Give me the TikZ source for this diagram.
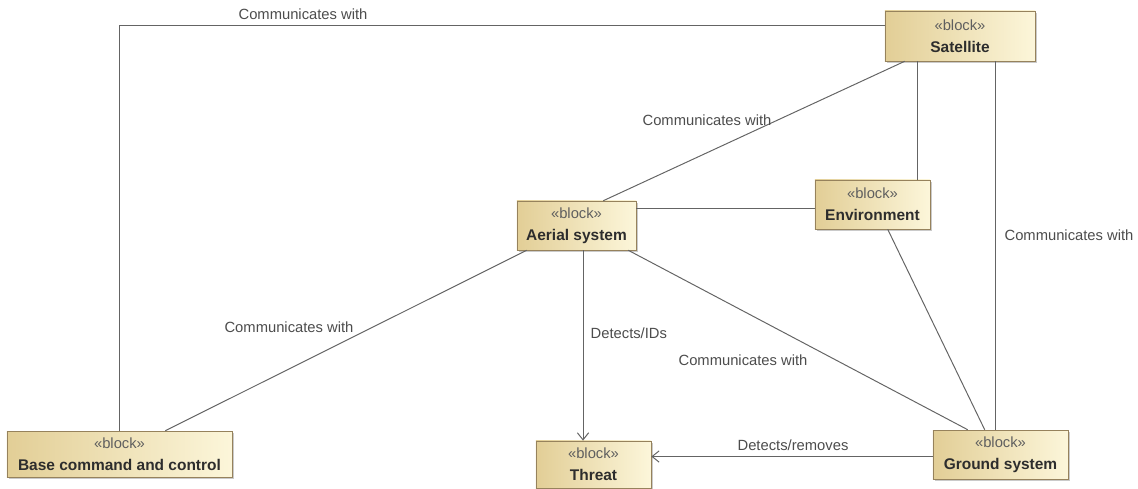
\documentclass[tikz,border=0pt]{standalone}
\usepackage{fontspec}
\setmainfont{Liberation Sans}
\usepackage{xcolor}
\usetikzlibrary{calc,shadows,arrows.meta}
\definecolor{blockdark}{RGB}{226,206,150}
\definecolor{blocklight}{RGB}{252,246,218}
\definecolor{blockedge}{RGB}{150,130,92}
\definecolor{linegray}{RGB}{100,100,100}
\definecolor{textgray}{RGB}{45,45,45}
\definecolor{stereogray}{RGB}{95,95,95}
\newcommand{\stereo}{{\color{stereogray}\fontsize{10.5}{15.5}\selectfont\mdseries «block»}}

\begin{document}
\begin{tikzpicture}[x=0.025cm, y=-0.025cm,
    block/.style={draw=blockedge, left color=blockdark, right color=blocklight,
        align=center, inner sep=0pt, text=textgray,
        font=\fontsize{11}{15.5}\selectfont\bfseries,
        drop shadow={shadow xshift=1.5pt, shadow yshift=-1.5pt, fill=black!35, opacity=0.6}},
    link/.style={draw=linegray, line width=0.7pt},
    linklabel/.style={text=textgray!85, inner sep=1pt, font=\fontsize{10.5}{12}\selectfont},
    tip/.style={-{Straight Barb[length=5pt,width=8pt]}}]
    \useasboundingbox (0,0) rectangle (1138,488);

    % Blocks
    \node[block, minimum width=3.75cm, minimum height=1.25cm] (sat) at (960,36) {\stereo\\Satellite};
    \node[block, minimum width=2.975cm, minimum height=1.225cm] (aer) at (576.5,225.5) {\stereo\\Aerial system};
    \node[block, minimum width=2.875cm, minimum height=1.225cm] (env) at (872.5,204.5) {\stereo\\Environment};
    \node[block, minimum width=5.625cm, minimum height=1.15cm] (base) at (119.5,454) {\stereo\\Base command and control};
    \node[block, minimum width=2.875cm, minimum height=1.18cm] (thr) at (593.5,464.5) {\stereo\\Threat};
    \node[block, minimum width=3.375cm, minimum height=1.225cm] (gnd) at (1000.5,454.5) {\stereo\\Ground system};

    % Connectors
    \draw[link] (base.north) |- ($(sat.north west)!0.3!(sat.south west)$);
    \draw[link] ($(sat.south west)+(20,0)$) -- ($(aer.north east)+(-33,0)$);
    \draw[link] ($(env.north east)+(-13,0)$) coordinate (e1) -- (e1 |- sat.south);
    \draw[link] ($(gnd.north)+(-5,0)$) coordinate (g1) -- (g1 |- sat.south);
    \draw[link] ($(aer.north east)+(0,8)$) coordinate (a1) -- (a1 -| env.west);
    \draw[link] ($(aer.south west)+(10,0)$) -- ($(base.north east)+(-67,0)$);
    \draw[link, tip] ($(aer.south)+(6.5,0)$) coordinate (a2) -- (a2 |- thr.north);
    \draw[link] ($(aer.south east)+(-8,0)$) -- ($(gnd.north west)+(35,0)$);
    \draw[link] ($(env.south west)+(73,0)$) -- ($(gnd.north west)+(52,0)$);
    \draw[link, tip] ($(gnd.west)+(0,2)$) coordinate (g2) -- (g2 -| thr.east);

    % Labels
    \node[linklabel] (l1) at (303,14) {Communicates with};
    \node[linklabel] (l2) at (707,120) {Communicates with};
    \node[linklabel] (l3) at (1069,235) {Communicates with};
    \node[linklabel] (l4) at (289,327) {Communicates with};
    \node[linklabel] (l5) at (743,360) {Communicates with};
    \node[linklabel, anchor=west] (l6) at (589,333) {Detects/IDs};
    \node[linklabel] (l7) at (793,445) {Detects/removes};

\end{tikzpicture}
\end{document}
